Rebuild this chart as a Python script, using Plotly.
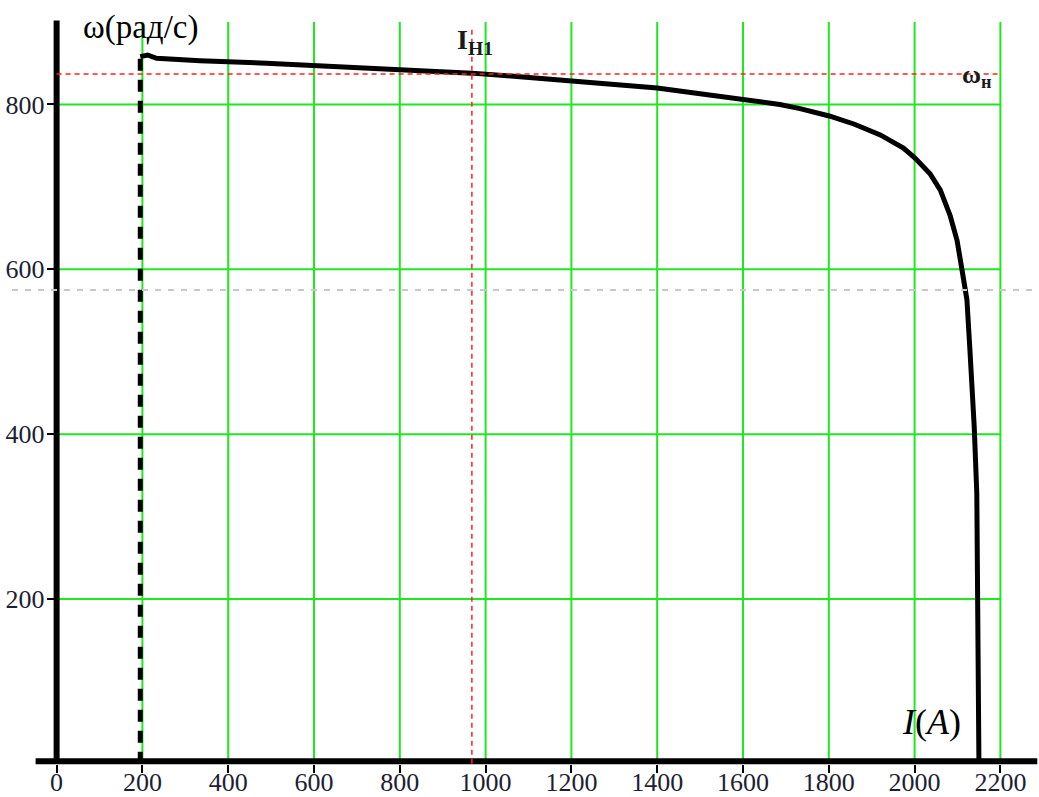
import plotly.graph_objects as go

# ---- data ----
current = [195, 212, 233, 334, 489, 645, 800, 968, 1073, 1200, 1400, 1500, 1600,
           1686, 1733, 1801, 1860, 1920, 1974, 2001, 2036, 2060, 2083, 2099, 2110,
           2118, 2122, 2129, 2133, 2139, 2145, 2147, 2150]
omega = [858, 860, 856, 853, 850, 846, 843, 838, 834, 829, 820, 813, 806,
         800, 795, 786, 776, 763, 747, 735, 716, 696, 665, 635, 601,
         575, 563, 502, 466, 409, 328, 187, 0]

x_ticks = [0, 200, 400, 600, 800, 1000, 1200, 1400, 1600, 1800, 2000, 2200]
y_ticks = [200, 400, 600, 800]
y_grid_top = 900

i_start = 195          # start current (dashed vertical)
i_n1 = 968             # I_H1 marker
omega_n = 837          # nominal speed
omega_gray = 575       # gray dashed level

x_range = [-104, 2290]
y_range = [-7.5, 914.6]

serif = "Liberation Serif, Times New Roman, serif"

fig = go.Figure()

# grid (green) as shapes limited to the chart area
shapes = []
for xv in x_ticks[1:]:
    shapes.append(dict(type="line", xref="x", yref="y", x0=xv, x1=xv, y0=0, y1=y_grid_top,
                       line=dict(color="#1ee81e", width=2), layer="below"))
for yv in y_ticks:
    shapes.append(dict(type="line", xref="x", yref="y", x0=0, x1=x_ticks[-1], y0=yv, y1=yv,
                       line=dict(color="#1ee81e", width=2), layer="below"))

# axis lines
fig.add_trace(go.Scatter(x=[0, 0], y=[0, 902], mode="lines",
                         line=dict(color="black", width=6), hoverinfo="skip"))
fig.add_trace(go.Scatter(x=[-49, 2286], y=[3, 3], mode="lines",
                         line=dict(color="black", width=6), hoverinfo="skip"))

# dashed vertical at start current
fig.add_trace(go.Scatter(x=[i_start, i_start], y=[0, omega[0]], mode="lines",
                         line=dict(color="black", width=5, dash="12px,9px"), hoverinfo="skip"))

# main curve
fig.add_trace(go.Scatter(x=current, y=omega, mode="lines",
                         line=dict(color="black", width=5), hoverinfo="skip"))

# red dashed markers
fig.add_trace(go.Scatter(x=[0, x_ticks[-1]], y=[omega_n, omega_n], mode="lines",
                         line=dict(color="#ff2020", width=1.5, dash="5px,4px"), hoverinfo="skip"))
fig.add_trace(go.Scatter(x=[i_n1, i_n1], y=[0, 894], mode="lines",
                         line=dict(color="#ff2020", width=1.5, dash="5px,4px"), hoverinfo="skip"))

# gray dashed
fig.add_trace(go.Scatter(x=[x_range[0], x_range[1]], y=[omega_gray, omega_gray], mode="lines",
                         line=dict(color="#c8c8c8", width=2, dash="6px,7px"), hoverinfo="skip"))

annotations = [
    dict(x=196, y=893, xref="x", yref="y", text="ω(рад/с)", showarrow=False,
         xanchor="center", yanchor="middle", font=dict(family=serif, size=33, color="black")),
    dict(x=929, y=876, xref="x", yref="y", text="<b>I<sub>Н1</sub></b>", showarrow=False,
         xanchor="left", yanchor="middle", font=dict(family=serif, size=28, color="#1a1a1a")),
    dict(x=2106, y=834, xref="x", yref="y", text="<b>ω<sub>н</sub></b>", showarrow=False,
         xanchor="left", yanchor="middle", font=dict(family=serif, size=26, color="#1a1a1a")),
    dict(x=1967, y=51, xref="x", yref="y", text="<i>I</i>(<i>A</i>)", showarrow=False,
         xanchor="left", yanchor="middle", font=dict(family=serif, size=36, color="black")),
]

py0 = (0 - y_range[0]) / (y_range[1] - y_range[0])
px0 = (0 - x_range[0]) / (x_range[1] - x_range[0])

fig.update_layout(
    width=1039, height=797,
    margin=dict(l=12, r=0, t=10, b=27),
    paper_bgcolor="white", plot_bgcolor="white",
    showlegend=False,
    shapes=shapes,
    annotations=annotations,
    xaxis=dict(range=x_range, anchor="free", position=py0, showgrid=False, zeroline=False,
               automargin=False,
               showline=False, tickmode="array", tickvals=x_ticks,
               ticktext=[str(v) for v in x_ticks], ticks="outside", ticklen=8,
               tickwidth=1.5, tickcolor="black", ticklabelstandoff=-13,
               tickfont=dict(family=serif, size=26, color="#1e1e32")),
    yaxis=dict(range=y_range, anchor="free", position=px0, showgrid=False, zeroline=False,
               automargin=False,
               showline=False, tickmode="array", tickvals=y_ticks,
               ticktext=[str(v) for v in y_ticks], ticks="outside", ticklen=10,
               tickwidth=1.5, tickcolor="black", ticklabelstandoff=-3,
               tickfont=dict(family=serif, size=26, color="#1e1e32")),
)

fig.write_html("out.html")
